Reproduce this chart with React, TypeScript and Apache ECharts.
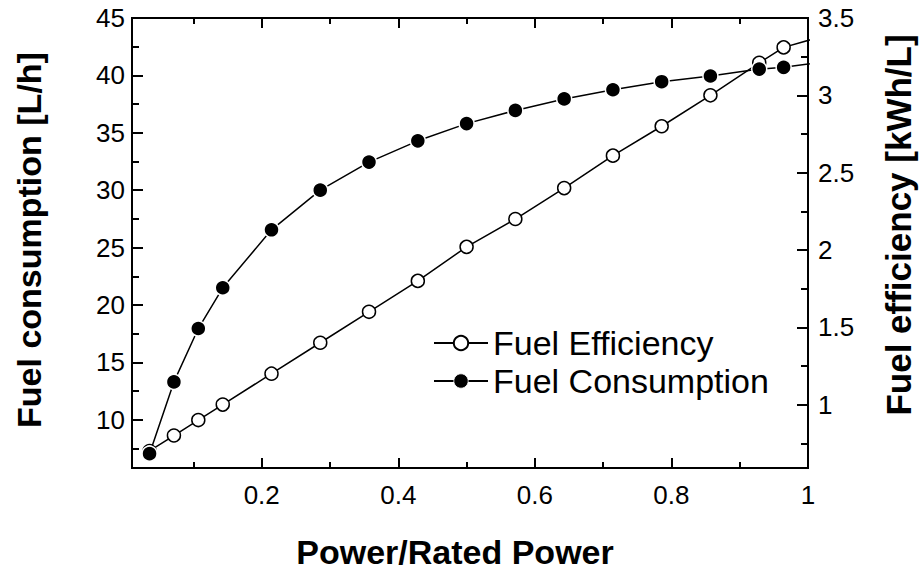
import React, { useEffect, useRef } from "react";
import * as echarts from "echarts";

// Power / rated power (x) for each measured point
const powerRatio = [
  0.0357, 0.0714, 0.1071, 0.1429, 0.2143, 0.2857, 0.3571, 0.4286, 0.5,
  0.5714, 0.6429, 0.7143, 0.7857, 0.8571, 0.9286, 0.9643, 1.0357,
];
// Fuel consumption [L/h] (left axis, filled circles)
const fuelConsumption = [
  7.05, 13.3, 17.95, 21.5, 26.55, 30.0, 32.45, 34.3, 35.8, 36.95, 37.95,
  38.75, 39.45, 39.95, 40.55, 40.7, 41.3,
];
// Fuel efficiency [kWh/L] (right axis, open circles)
const fuelEfficiency = [
  0.7, 0.8, 0.9, 1.0, 1.2, 1.4, 1.6, 1.8, 2.02, 2.2, 2.4, 2.61, 2.8, 3.0,
  3.21, 3.31, 3.4,
];

const xMajorTicks = [0.2, 0.4, 0.6, 0.8];
const xMinorTicks = [0.1, 0.3, 0.5, 0.7, 0.9];
const xLabels = [0.2, 0.4, 0.6, 0.8, 1];
const leftMajor = [10, 15, 20, 25, 30, 35, 40, 45];
const leftMinor = [7.5, 12.5, 17.5, 22.5, 27.5, 32.5, 37.5, 42.5];
const rightMajor = [1, 1.5, 2, 2.5, 3, 3.5];
const rightMinor = [0.75, 1.25, 1.75, 2.25, 2.75, 3.25];

const FONT = "'Liberation Sans', Arial, sans-serif";

export default function App() {
  const ref = useRef<HTMLDivElement>(null);

  useEffect(() => {
    if (!ref.current) return;
    const chart = echarts.init(ref.current, null, { renderer: "svg" });

    const axisLine = { show: true, lineStyle: { color: "#000", width: 2 } };
    const labelStyle = { color: "#000", fontSize: 26, fontFamily: FONT };

    const xAxisBase = (position: string, ticks: number[], len: number, labels: number[] | null) => ({
      type: "value",
      position,
      min: 0.01,
      max: 1,
      axisLine,
      splitLine: { show: false },
      axisTick: {
        show: true,
        inside: true,
        length: len,
        customValues: ticks,
        lineStyle: { color: "#000", width: 2 },
      },
      axisLabel: labels
        ? { show: true, customValues: labels, margin: 14, ...labelStyle, formatter: (v: number) => String(v) }
        : { show: false },
    });

    const yAxisBase = (position: string, min: number, max: number, ticks: number[], len: number, labels: number[] | null, margin: number) => ({
      type: "value",
      position,
      min,
      max,
      axisLine,
      splitLine: { show: false },
      axisTick: {
        show: true,
        inside: true,
        length: len,
        customValues: ticks,
        lineStyle: { color: "#000", width: 2 },
      },
      axisLabel: labels
        ? { show: true, customValues: labels, margin, ...labelStyle, formatter: (v: number) => String(v) }
        : { show: false },
    });

    chart.setOption({
      animation: false,
      backgroundColor: "#fff",
      grid: { left: 132, right: 111, top: 18, bottom: 104, containLabel: false },
      xAxis: [
        xAxisBase("bottom", xMajorTicks, 10, xLabels),
        xAxisBase("bottom", xMinorTicks, 6, null),
        xAxisBase("top", xMajorTicks, 10, null),
        xAxisBase("top", xMinorTicks, 6, null),
      ],
      yAxis: [
        yAxisBase("left", 5.8, 45, leftMajor, 11, leftMajor, 7),
        yAxisBase("left", 5.8, 45, leftMinor, 7, null, 7),
        yAxisBase("right", 0.59, 3.5, rightMajor, 11, rightMajor, 10),
        yAxisBase("right", 0.59, 3.5, rightMinor, 7, null, 10),
      ],
      legend: {
        orient: "vertical",
        left: 428,
        top: 321,
        itemWidth: 54,
        itemHeight: 18,
        itemGap: 4,
        data: [
          { name: "Fuel Efficiency" },
          { name: "Fuel Consumption", itemStyle: { borderWidth: 0.8 } },
        ],
        textStyle: { color: "#000", fontSize: 34, fontFamily: FONT, lineHeight: 34 },
      },
      series: [
        {
          name: "Fuel Efficiency",
          type: "line",
          xAxisIndex: 0,
          yAxisIndex: 2,
          clip: true,
          symbol: "circle",
          symbolSize: 13,
          itemStyle: { color: "#fff", borderColor: "#000", borderWidth: 1.5 },
          lineStyle: { color: "#000", width: 1.5 },
          data: powerRatio.map((p, i) => [p, fuelEfficiency[i]]),
          z: 3,
        },
        {
          name: "Fuel Consumption",
          type: "line",
          xAxisIndex: 0,
          yAxisIndex: 0,
          clip: true,
          symbol: "circle",
          symbolSize: 15,
          itemStyle: { color: "#000", borderColor: "#fff", borderWidth: 1.5 },
          lineStyle: { color: "#000", width: 1.5 },
          data: powerRatio.map((p, i) => [p, fuelConsumption[i]]),
          z: 4,
        },
      ],
      graphic: [
        {
          type: "text",
          x: 455,
          y: 552,
          style: {
            text: "Power/Rated Power",
            fill: "#000",
            font: `bold 34px ${FONT}`,
            textAlign: "center",
            textVerticalAlign: "middle",
          },
        },
        {
          type: "text",
          x: 29,
          y: 240,
          rotation: Math.PI / 2,
          style: {
            text: "Fuel consumption [L/h]",
            fill: "#000",
            font: `bold 34px ${FONT}`,
            textAlign: "center",
            textVerticalAlign: "middle",
          },
        },
        {
          type: "text",
          x: 898,
          y: 225,
          rotation: Math.PI / 2,
          style: {
            text: "Fuel efficiency [kWh/L]",
            fill: "#000",
            font: `bold 35px ${FONT}`,
            textAlign: "center",
            textVerticalAlign: "middle",
          },
        },
      ],
    });

    return () => chart.dispose();
  }, []);

  return (
    <div
      ref={ref}
      style={{ position: "fixed", left: 0, top: 0, width: 919, height: 572, background: "#fff" }}
    />
  );
}
